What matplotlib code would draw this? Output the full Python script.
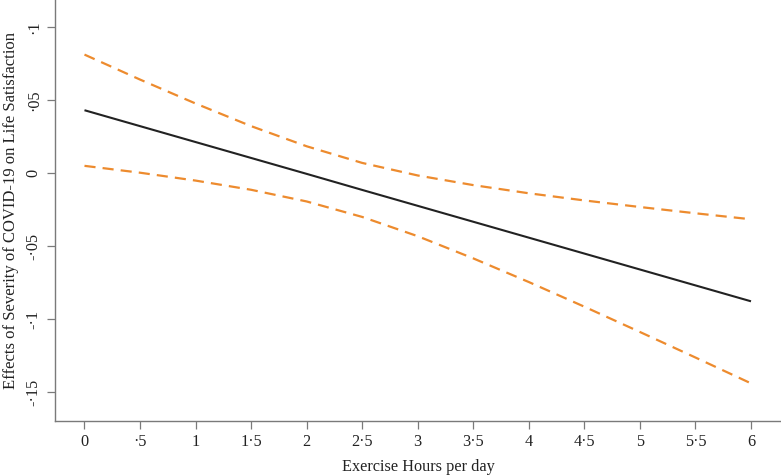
import matplotlib
matplotlib.use("Agg")
import matplotlib.pyplot as plt

# Horas de ejercicio (eje x)
horas = [0, 0.5, 1, 1.5, 2, 2.5, 3, 3.5, 4, 4.5, 5, 5.5, 6]

# Efecto marginal estimado y banda de confianza
efecto = [0.0432, 0.0323, 0.0214, 0.0105, -0.0004, -0.0114, -0.0223,
          -0.0332, -0.0441, -0.0550, -0.0659, -0.0768, -0.0877]
limite_sup = [0.0813, 0.0642, 0.0478, 0.0323, 0.0185, 0.0071, -0.0015,
              -0.0081, -0.0137, -0.0186, -0.0231, -0.0274, -0.0315]
limite_inf = [0.0051, 0.0004, -0.0050, -0.0113, -0.0193, -0.0299, -0.0431,
              -0.0583, -0.0745, -0.0914, -0.1087, -0.1262, -0.1439]

# Marcas de los ejes
xticks = [0, 0.5, 1, 1.5, 2, 2.5, 3, 3.5, 4, 4.5, 5, 5.5, 6]
xtick_labels = ['0', '·5', '1', '1·5', '2', '2·5', '3', '3·5', '4', '4·5', '5', '5·5', '6']
yticks = [-0.15, -0.1, -0.05, 0, 0.05, 0.1]
ytick_labels = ['-·15', '-·1', '-·05', '0', '·05', '·1']

plt.rcParams['font.family'] = ['Liberation Serif', 'DejaVu Serif']

fig = plt.figure(figsize=(7.81, 4.76), dpi=100)
ax = fig.add_axes([0.0704, 0.1155, 0.9296, 0.8845])

naranja = '#ED8B2E'
ax.plot(horas, efecto, color='#222222', linewidth=1.5, solid_capstyle='butt')
ax.plot(horas, limite_sup, color=naranja, linewidth=1.6, dashes=(5, 3.2))
ax.plot(horas, limite_inf, color=naranja, linewidth=1.6, dashes=(5, 3.2))

ax.set_xlim(-0.2656, 6.27)
ax.set_ylim(-0.1697, 0.1187)

ax.set_xticks(xticks)
ax.set_xticklabels(xtick_labels, fontsize=11.7)
ax.set_yticks(yticks)
ax.set_yticklabels(ytick_labels, fontsize=11.7, rotation=90, va='center')

ax.spines['top'].set_visible(False)
ax.spines['right'].set_visible(False)
for lado in ['left', 'bottom']:
    ax.spines[lado].set_color('#7a7a7a')
    ax.spines[lado].set_linewidth(1.0)

ax.tick_params(axis='both', direction='out', length=5.5, width=0.9,
               color='#7a7a7a', labelcolor='#222222', pad=4)

ax.set_xlabel('Exercise Hours per day', fontsize=11.7, color='#222222', labelpad=6)
ax.set_ylabel('Effects of Severity of COVID-19 on Life Satisfaction',
              fontsize=12, color='#222222', labelpad=5)

fig.savefig('out.png', dpi=100)
